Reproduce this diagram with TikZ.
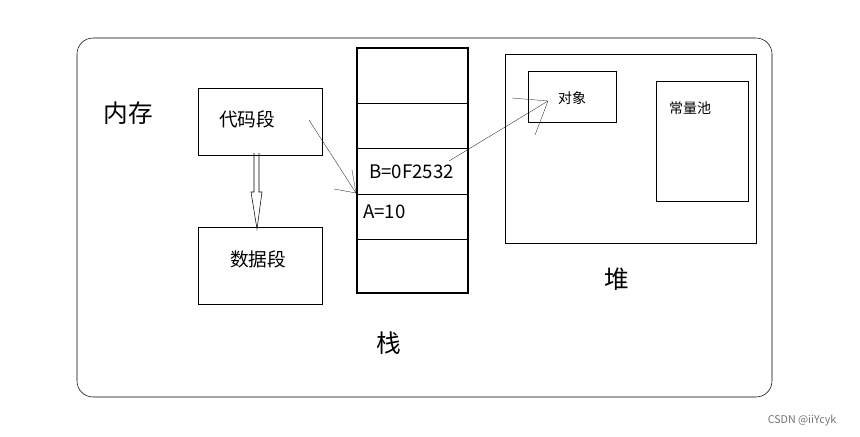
\documentclass[tikz,border=0pt]{standalone}
\usepackage{fontspec}
\setmainfont{Noto Sans CJK SC}
\begin{document}
\begin{tikzpicture}[x=0.75pt,y=-0.75pt]
    \useasboundingbox (0,0) rectangle (860,436);

    \tikzset{
        box/.style={draw, thin},
        big/.style={font=\fontsize{18.5}{20}\selectfont},
        mid/.style={font=\fontsize{14}{16}\selectfont},
        small/.style={font=\fontsize{10.5}{12}\selectfont},
    }

    % memory frame
    \path[draw, rounded corners=12] (77,38) rectangle (772,397);
    \node[big] (mem) at (128,113) {内存};

    % code and data segments
    \path[box] (198,88) rectangle (322,155);
    \node[mid] (code) at (247,119) {代码段};
    \path[box] (198,227) rectangle (322,304);
    \node[mid] (data) at (258,259) {数据段};

    % hollow arrow code -> data
    \path[draw, thin] (254,153) -- (254,192) -- (251,192) -- (257,229) -- (262,192) -- (259,192) -- (259,153);

    % stack
    \path[draw, thick] (357,48) rectangle (468,293);
    \foreach \y in {103,148,194,239}
        \path[draw] (357,\y) -- (468,\y);
    \node[mid, anchor=west, inner sep=0pt] (varB) at (369,172) {B=0F2532};
    \node[mid, anchor=west, inner sep=0pt] (varA) at (363,212) {A=10};
    \node[big] (stack) at (389,343) {栈};

    % heap
    \path[box] (505,54) rectangle (756,243);
    \path[box] (528,71) rectangle (616,122);
    \node[small] (obj) at (572,98) {对象};
    \path[box] (656,81) rectangle (748,201);
    \node[small] (pool) at (690,108) {常量池};
    \node[big] (heap) at (617,279) {堆};

    % arrow code -> stack
    \coordinate (tip1) at (356,193);
    \path[draw, very thin] (309,120) -- (tip1);
    \path[draw, very thin] (352,170) -- (tip1) -- (334,189);

    % arrow B -> object
    \coordinate (tip2) at (548,101);
    \path[draw, very thin] (449,161) -- (tip2);
    \path[draw, very thin] (512,98) -- (tip2) -- (535,135);

    \node[font=\fontsize{8}{10}\selectfont, text=black!55] (mark) at (802,420) {CSDN @iiYcyk};
\end{tikzpicture}
\end{document}
